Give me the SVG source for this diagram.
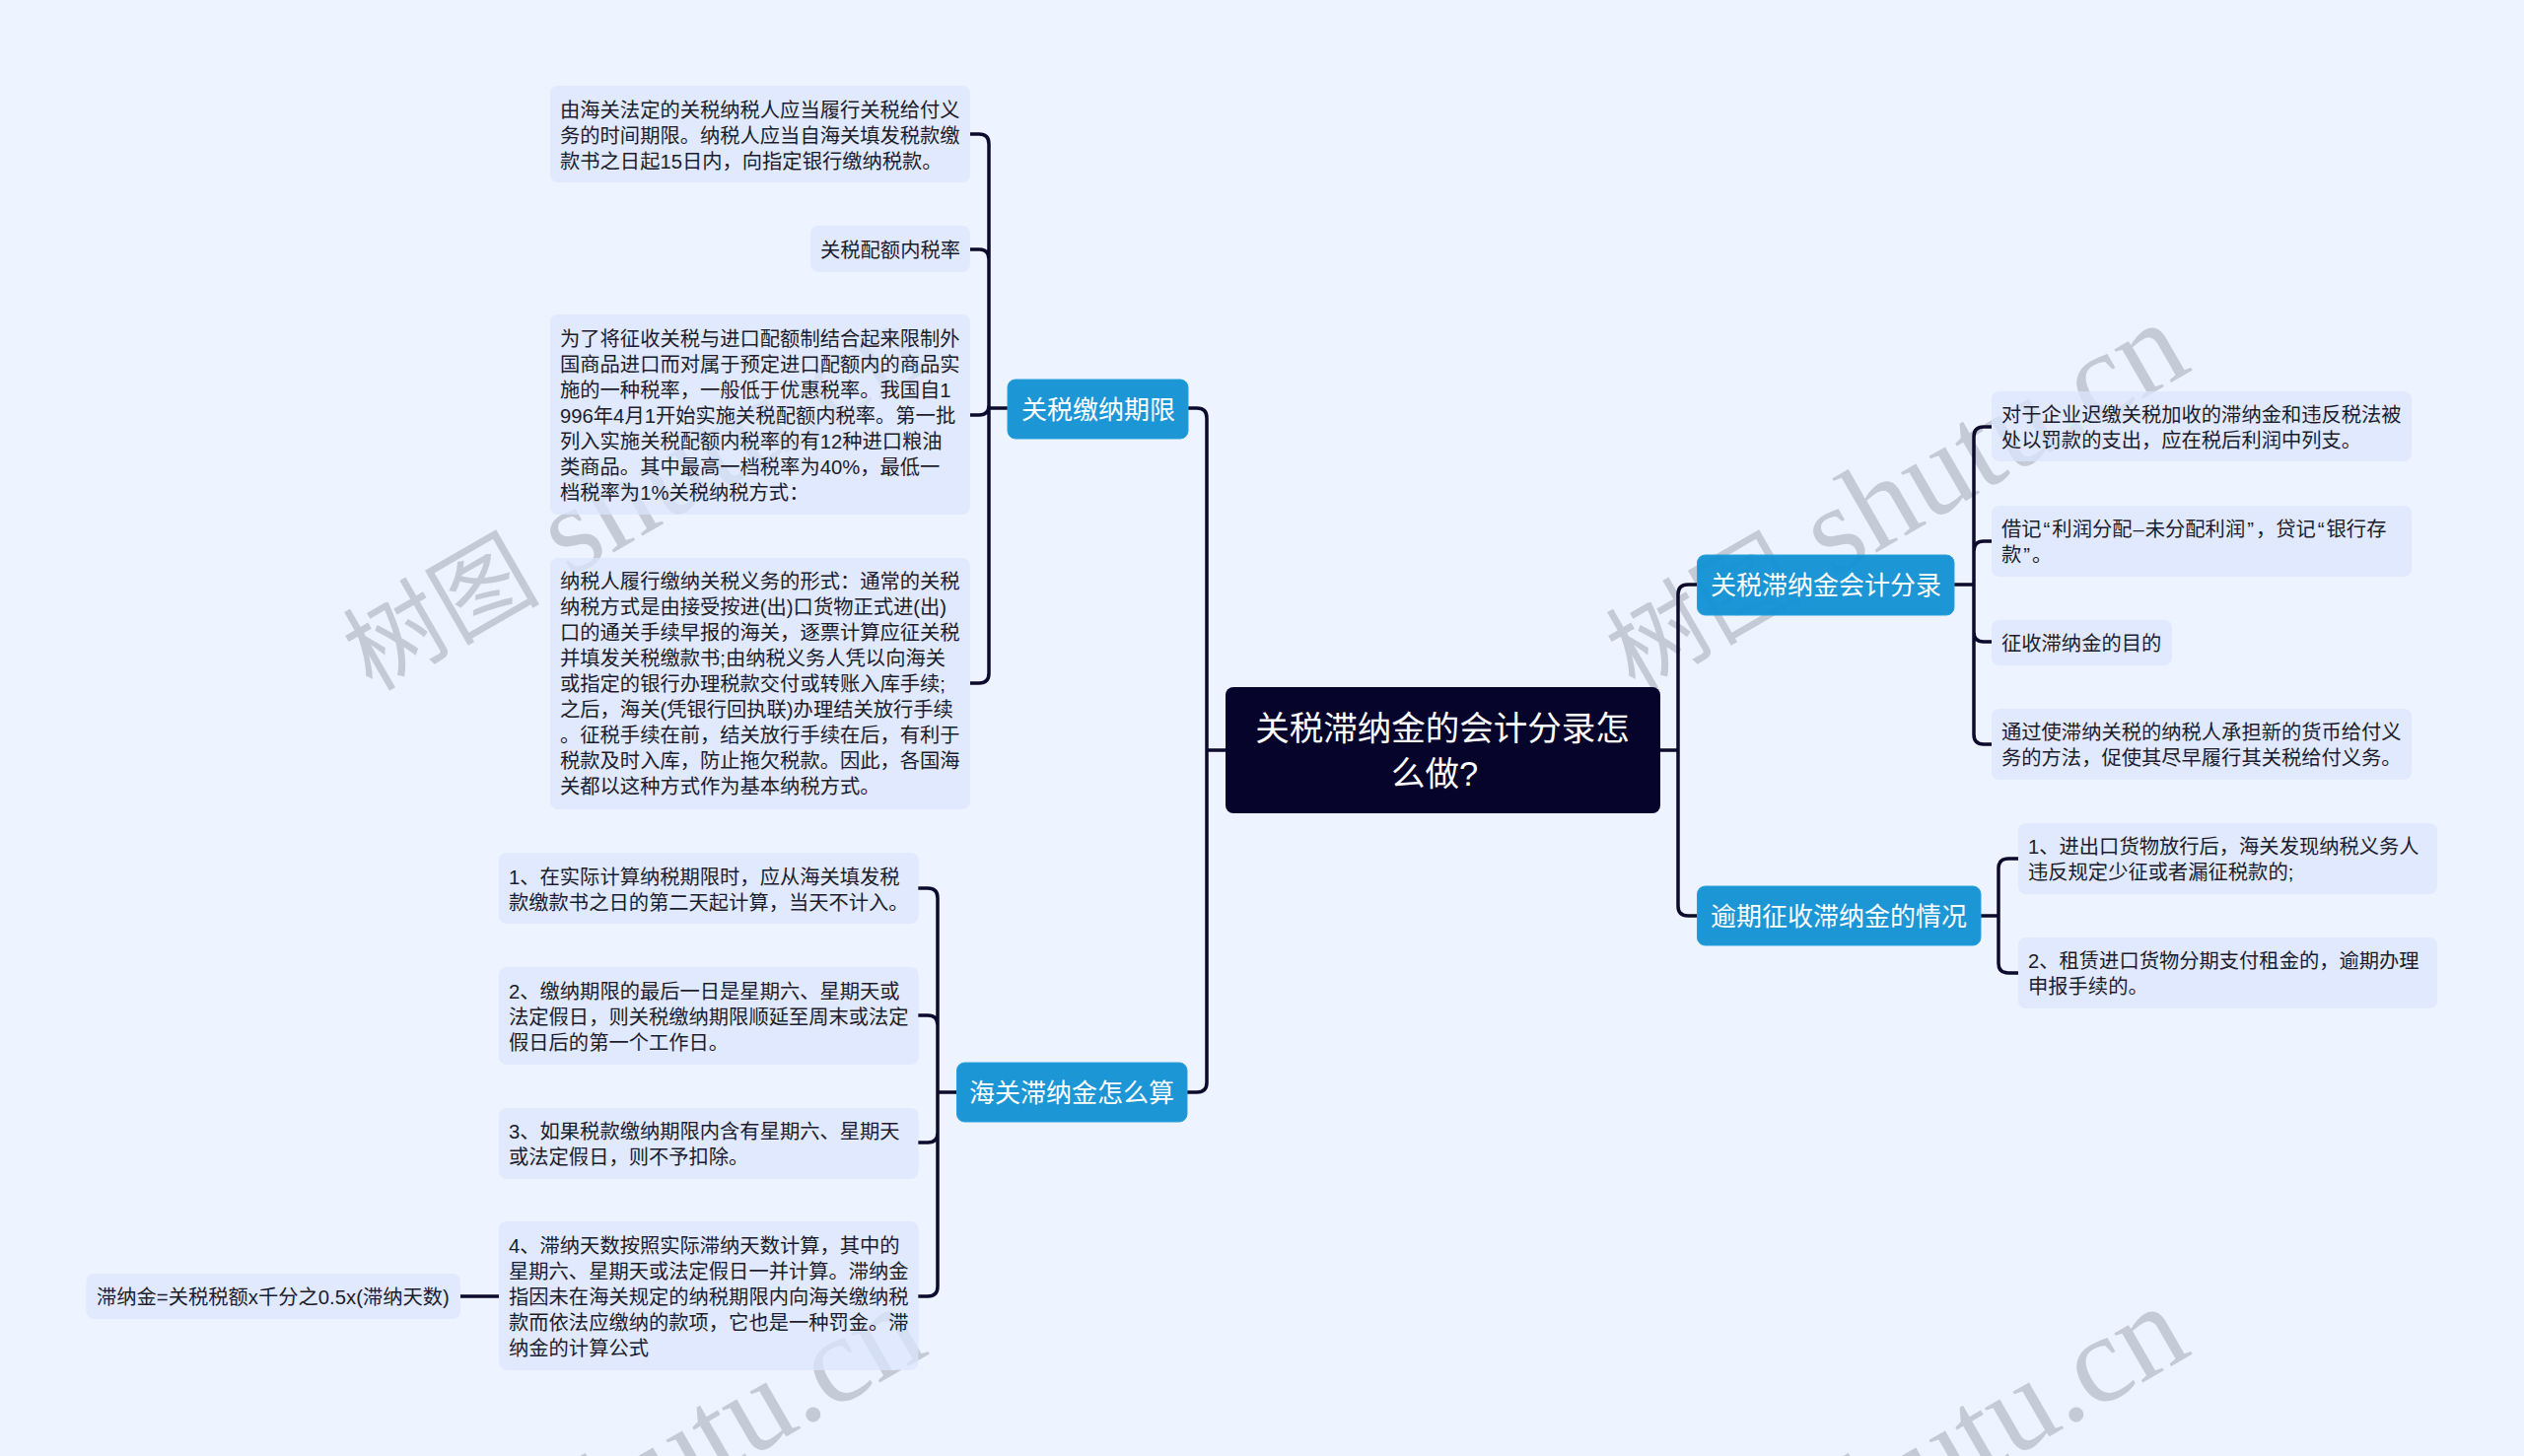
<svg xmlns="http://www.w3.org/2000/svg" width="2560" height="1477" viewBox="0 0 2560 1477">
<style>
.bg{fill:#edf3ff}
.n rect{fill:#dbe6fc;fill-opacity:.75}
.n text{font:20.3px "Liberation Sans","Noto Sans CJK SC",sans-serif;fill:#1c1c2c}
.b rect{fill:#1290d4;fill-opacity:.95;stroke:#2a9fdc;stroke-width:1}
.b text{font:26px "Liberation Sans","Noto Sans CJK SC",sans-serif;fill:#fff}
.r rect{fill:#07042c}
.r text{font:34.5px "Liberation Sans","Noto Sans CJK SC",sans-serif;fill:#fff;text-anchor:middle}
#connectors path{fill:none;stroke:#0c0a2d;stroke-width:3.5;stroke-linecap:butt}
.wm{font:126px "Liberation Serif","Noto Sans CJK SC",serif;fill:#c4cad6}
.wm tspan{font-size:100px}
</style>
<rect class="bg" width="2560" height="1477"/>
<g id="watermarks">
<text class="wm" transform="translate(377 702) rotate(-30)"><tspan>树图</tspan> shutu.cn</text>
<text class="wm" transform="translate(1658 702) rotate(-30)"><tspan>树图</tspan> shutu.cn</text>
<text class="wm" transform="translate(377 1700) rotate(-30)"><tspan>树图</tspan> shutu.cn</text>
<text class="wm" transform="translate(1658 1700) rotate(-30)"><tspan>树图</tspan> shutu.cn</text>
</g>
<g id="connectors">
<path d="M1243 761H1224M1205 414H1214Q1224 414 1224 424V1098Q1224 1108 1214 1108H1204"/>
<path d="M1684 761H1702M1721 593H1712Q1702 593 1702 603V919Q1702 929 1712 929H1721"/>
<path d="M1022 414H1003M984 136H993Q1003 136 1003 146V683Q1003 693 993 693H984M984 253H993Q1003 253 1003 263V411Q1003 421 993 421H984"/>
<path d="M970 1108H951M931 901H941Q951 901 951 911V1305Q951 1315 941 1315H931M931 1030H941Q951 1030 951 1040V1149Q951 1159 941 1159H931"/>
<path d="M1982 593H2002M2020 433H2012Q2002 433 2002 443V745Q2002 755 2012 755H2020M2020 549H2012Q2002 549 2002 559V641Q2002 651 2012 651H2020"/>
<path d="M2009 929H2027M2047 871H2037Q2027 871 2027 881V977Q2027 987 2037 987H2047"/>
<path d="M506 1315H467"/>
</g>
<g id="root" class="r"><rect x="1243" y="697" width="441" height="128" rx="8"/><text x="1463" y="751">关税滞纳金的会计分录怎</text><text x="1455" y="797">么做?</text></g>
<g id="b1" class="b"><rect x="1022" y="385" width="183" height="60" rx="8"/><text x="1036" y="425">关税缴纳期限</text></g>
<g id="b2" class="b"><rect x="970.5" y="1078" width="233.5" height="60" rx="8"/><text x="983" y="1118">海关滞纳金怎么算</text></g>
<g id="b3" class="b"><rect x="1721.5" y="563" width="260.5" height="61" rx="8"/><text x="1735" y="603">关税滞纳金会计分录</text></g>
<g id="b4" class="b"><rect x="1721.5" y="899" width="287.5" height="60" rx="8"/><text x="1735" y="939">逾期征收滞纳金的情况</text></g>
<g id="n1" class="n"><rect x="558" y="87" width="426" height="98" rx="8"/><text x="568" y="119">由海关法定的关税纳税人应当履行关税给付义</text><text x="568" y="145">务的时间期限。纳税人应当自海关填发税款缴</text><text x="568" y="171">款书之日起15日内，向指定银行缴纳税款。</text></g>
<g id="n2" class="n"><rect x="822" y="229" width="162" height="47" rx="8"/><text x="832" y="261">关税配额内税率</text></g>
<g id="n3" class="n"><rect x="558" y="319" width="426" height="203" rx="8"/><text x="568" y="351">为了将征收关税与进口配额制结合起来限制外</text><text x="568" y="377">国商品进口而对属于预定进口配额内的商品实</text><text x="568" y="403">施的一种税率，一般低于优惠税率。我国自1</text><text x="568" y="429">996年4月1开始实施关税配额内税率。第一批</text><text x="568" y="455">列入实施关税配额内税率的有12种进口粮油</text><text x="568" y="481">类商品。其中最高一档税率为40%，最低一</text><text x="568" y="507">档税率为1%关税纳税方式：</text></g>
<g id="n4" class="n"><rect x="558" y="566" width="426" height="255" rx="8"/><text x="568" y="597">纳税人履行缴纳关税义务的形式：通常的关税</text><text x="568" y="623">纳税方式是由接受按进(出)口货物正式进(出)</text><text x="568" y="649">口的通关手续早报的海关，逐票计算应征关税</text><text x="568" y="675">并填发关税缴款书;由纳税义务人凭以向海关</text><text x="568" y="701">或指定的银行办理税款交付或转账入库手续;</text><text x="568" y="727">之后，海关(凭银行回执联)办理结关放行手续</text><text x="568" y="753">。征税手续在前，结关放行手续在后，有利于</text><text x="568" y="779">税款及时入库，防止拖欠税款。因此，各国海</text><text x="568" y="805">关都以这种方式作为基本纳税方式。</text></g>
<g id="n5" class="n"><rect x="506" y="865" width="425.5" height="72" rx="8"/><text x="516" y="897">1、在实际计算纳税期限时，应从海关填发税</text><text x="516" y="923">款缴款书之日的第二天起计算，当天不计入。</text></g>
<g id="n6" class="n"><rect x="506" y="981" width="425.5" height="99" rx="8"/><text x="516" y="1013">2、缴纳期限的最后一日是星期六、星期天或</text><text x="516" y="1039">法定假日，则关税缴纳期限顺延至周末或法定</text><text x="516" y="1065">假日后的第一个工作日。</text></g>
<g id="n7" class="n"><rect x="506" y="1124" width="425.5" height="72" rx="8"/><text x="516" y="1155">3、如果税款缴纳期限内含有星期六、星期天</text><text x="516" y="1181">或法定假日，则不予扣除。</text></g>
<g id="n8" class="n"><rect x="506" y="1239" width="425.5" height="151" rx="8"/><text x="516" y="1271">4、滞纳天数按照实际滞纳天数计算，其中的</text><text x="516" y="1297">星期六、星期天或法定假日一并计算。滞纳金</text><text x="516" y="1323">指因未在海关规定的纳税期限内向海关缴纳税</text><text x="516" y="1349">款而依法应缴纳的款项，它也是一种罚金。滞</text><text x="516" y="1375">纳金的计算公式</text></g>
<g id="n9" class="n"><rect x="87.5" y="1292" width="379.5" height="46" rx="8"/><text x="98" y="1323">滞纳金=关税税额x千分之0.5x(滞纳天数)</text></g>
<g id="n10" class="n"><rect x="2020" y="397" width="426" height="71" rx="8"/><text x="2030" y="428">对于企业迟缴关税加收的滞纳金和违反税法被</text><text x="2030" y="454">处以罚款的支出，应在税后利润中列支。</text></g>
<g id="n11" class="n"><rect x="2020" y="513" width="426" height="72" rx="8"/><text x="2030" y="544">借记<tspan dx="2">“</tspan><tspan dx="2">利润分配</tspan><tspan dx="1">–</tspan><tspan dx="1">未分配利润</tspan><tspan dx="2">”</tspan><tspan dx="2">，贷记</tspan><tspan dx="2">“</tspan><tspan dx="2">银行存</tspan></text><text x="2030" y="570">款<tspan dx="2">”</tspan><tspan dx="2">。</tspan></text></g>
<g id="n12" class="n"><rect x="2020" y="629" width="183" height="46" rx="8"/><text x="2030" y="660">征收滞纳金的目的</text></g>
<g id="n13" class="n"><rect x="2020" y="719" width="426" height="72" rx="8"/><text x="2030" y="750">通过使滞纳关税的纳税人承担新的货币给付义</text><text x="2030" y="776">务的方法，促使其尽早履行其关税给付义务。</text></g>
<g id="n14" class="n"><rect x="2047" y="835" width="425" height="72" rx="8"/><text x="2057" y="866">1、进出口货物放行后，海关发现纳税义务人</text><text x="2057" y="892">违反规定少征或者漏征税款的;</text></g>
<g id="n15" class="n"><rect x="2047" y="951" width="425" height="72" rx="8"/><text x="2057" y="982">2、租赁进口货物分期支付租金的，逾期办理</text><text x="2057" y="1008">申报手续的。</text></g>
</svg>
